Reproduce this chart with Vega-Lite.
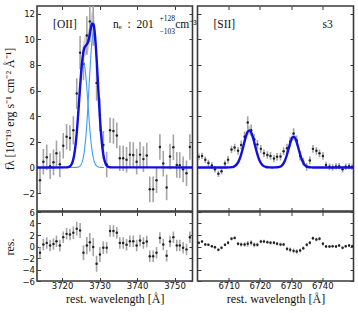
{
"$schema": "https://vega.github.io/schema/vega-lite/v6.json",
"background": "white",
"padding": {"left": 3, "top": 4, "right": 4, "bottom": 4},
"config": {
  "view": {"stroke": "#3a3a3a", "strokeWidth": 1.6},
  "axis": {"grid": false, "domain": false, "tickSize": -3.5, "tickColor": "#3a3a3a", "tickWidth": 1, "minExtent": 0, "offset": 0, "labelFont": "DejaVu Sans", "labelFontSize": 8.5, "labelColor": "#111", "labelPadding": 6, "titleFont": "Liberation Serif", "titleFontSize": 12, "titleFontWeight": "normal", "titleColor": "#111", "titlePadding": 5},
  "axisX": {"labelPadding": 3.5, "titlePadding": 4}
},
"datasets": {
  "leftPts": [
    {"lam": 3714.1, "v": -1.0, "lo": -2.0, "hi": 0.0, "res": -1.1, "rlo": -2.1, "rhi": -0.1},
    {"lam": 3715.0, "v": 0.44, "lo": -0.56, "hi": 1.44, "res": 0.35, "rlo": -0.65, "rhi": 1.35},
    {"lam": 3715.9, "v": 0.8, "lo": -0.2, "hi": 1.8, "res": 0.63, "rlo": -0.37, "rhi": 1.63},
    {"lam": 3716.8, "v": 0.1, "lo": -0.9, "hi": 1.1, "res": 0.17, "rlo": -0.83, "rhi": 1.17},
    {"lam": 3717.7, "v": 0.4, "lo": -0.6, "hi": 1.4, "res": 0.45, "rlo": -0.55, "rhi": 1.45},
    {"lam": 3718.5, "v": 1.1, "lo": 0.1, "hi": 2.1, "res": 0.93, "rlo": -0.07, "rhi": 1.93},
    {"lam": 3719.4, "v": 0.25, "lo": -0.75, "hi": 1.25, "res": 0.17, "rlo": -0.83, "rhi": 1.17},
    {"lam": 3720.3, "v": 1.69, "lo": 0.69, "hi": 2.69, "res": 1.63, "rlo": 0.63, "rhi": 2.63},
    {"lam": 3721.2, "v": 2.4, "lo": 1.4, "hi": 3.4, "res": 2.2, "rlo": 1.2, "rhi": 3.2},
    {"lam": 3722.1, "v": 2.3, "lo": 1.3, "hi": 3.3, "res": 2.1, "rlo": 1.1, "rhi": 3.1},
    {"lam": 3723.0, "v": 2.9, "lo": 1.8, "hi": 4.0, "res": 2.4, "rlo": 1.3, "rhi": 3.5},
    {"lam": 3723.9, "v": 5.77, "lo": 4.57, "hi": 6.97, "res": 3.1, "rlo": 1.9, "rhi": 4.3},
    {"lam": 3724.8, "v": 8.96, "lo": 7.66, "hi": 10.26, "res": 2.8, "rlo": 1.5, "rhi": 4.1},
    {"lam": 3725.7, "v": 8.1, "lo": 6.8, "hi": 9.4, "res": -1.1, "rlo": -2.4, "rhi": 0.2},
    {"lam": 3726.6, "v": 10.3, "lo": 8.8, "hi": 11.8, "res": 0.17, "rlo": -1.33, "rhi": 1.67},
    {"lam": 3727.4, "v": 11.4, "lo": 9.8, "hi": 13.0, "res": 0.75, "rlo": -0.85, "rhi": 2.35},
    {"lam": 3728.3, "v": 11.1, "lo": 9.5, "hi": 12.7, "res": -0.1, "rlo": -1.7, "rhi": 1.5},
    {"lam": 3729.2, "v": 6.6, "lo": 5.2, "hi": 8.0, "res": -3.0, "rlo": -4.4, "rhi": -1.6},
    {"lam": 3730.1, "v": 4.1, "lo": 2.8, "hi": 5.4, "res": -1.4, "rlo": -2.7, "rhi": -0.1},
    {"lam": 3731.0, "v": 1.75, "lo": 0.65, "hi": 2.85, "res": -0.2, "rlo": -1.3, "rhi": 0.9},
    {"lam": 3731.9, "v": 0.23, "lo": -0.77, "hi": 1.23, "res": -0.2, "rlo": -1.2, "rhi": 0.8},
    {"lam": 3732.8, "v": 2.9, "lo": 1.9, "hi": 3.9, "res": 2.7, "rlo": 1.7, "rhi": 3.7},
    {"lam": 3733.7, "v": 2.84, "lo": 1.84, "hi": 3.84, "res": 2.7, "rlo": 1.7, "rhi": 3.7},
    {"lam": 3734.6, "v": 2.5, "lo": 1.5, "hi": 3.5, "res": 2.4, "rlo": 1.4, "rhi": 3.4},
    {"lam": 3735.4, "v": 0.72, "lo": -0.28, "hi": 1.72, "res": 0.63, "rlo": -0.37, "rhi": 1.63},
    {"lam": 3736.3, "v": 0.72, "lo": -0.28, "hi": 1.72, "res": 0.6, "rlo": -0.4, "rhi": 1.6},
    {"lam": 3737.2, "v": 0.6, "lo": -0.4, "hi": 1.6, "res": 0.3, "rlo": -0.7, "rhi": 1.3},
    {"lam": 3738.1, "v": 1.0, "lo": 0.0, "hi": 2.0, "res": 0.93, "rlo": -0.07, "rhi": 1.93},
    {"lam": 3739.0, "v": 0.97, "lo": -0.03, "hi": 1.97, "res": 0.93, "rlo": -0.07, "rhi": 1.93},
    {"lam": 3739.9, "v": 0.45, "lo": -0.55, "hi": 1.45, "res": 0.17, "rlo": -0.83, "rhi": 1.17},
    {"lam": 3740.8, "v": 1.0, "lo": 0.0, "hi": 2.0, "res": 1.05, "rlo": 0.05, "rhi": 2.05},
    {"lam": 3741.7, "v": 0.65, "lo": -0.35, "hi": 1.65, "res": 0.63, "rlo": -0.37, "rhi": 1.63},
    {"lam": 3742.6, "v": 0.93, "lo": -0.07, "hi": 1.93, "res": 0.87, "rlo": -0.13, "rhi": 1.87},
    {"lam": 3743.4, "v": -1.71, "lo": -2.71, "hi": -0.71, "res": -1.7, "rlo": -2.7, "rhi": -0.7},
    {"lam": 3744.3, "v": -1.71, "lo": -2.71, "hi": -0.71, "res": -1.7, "rlo": -2.7, "rhi": -0.7},
    {"lam": 3745.2, "v": -1.0, "lo": -2.0, "hi": 0.0, "res": -1.1, "rlo": -2.1, "rhi": -0.1},
    {"lam": 3746.1, "v": 1.6, "lo": 0.6, "hi": 2.6, "res": 1.5, "rlo": 0.5, "rhi": 2.5},
    {"lam": 3747.0, "v": 0.3, "lo": -0.7, "hi": 1.3, "res": 0.35, "rlo": -0.65, "rhi": 1.35},
    {"lam": 3747.9, "v": -1.56, "lo": -2.56, "hi": -0.56, "res": -1.6, "rlo": -2.6, "rhi": -0.6},
    {"lam": 3748.8, "v": 0.85, "lo": -0.15, "hi": 1.85, "res": 0.87, "rlo": -0.13, "rhi": 1.87},
    {"lam": 3749.7, "v": 1.58, "lo": 0.58, "hi": 2.58, "res": 1.63, "rlo": 0.63, "rhi": 2.63},
    {"lam": 3750.6, "v": 0.2, "lo": -0.8, "hi": 1.2, "res": 0.17, "rlo": -0.83, "rhi": 1.17},
    {"lam": 3751.4, "v": 0.18, "lo": -0.82, "hi": 1.18, "res": 0.17, "rlo": -0.83, "rhi": 1.17},
    {"lam": 3752.3, "v": -0.15, "lo": -1.15, "hi": 0.85, "res": -0.2, "rlo": -1.2, "rhi": 0.8},
    {"lam": 3753.2, "v": -0.45, "lo": -1.45, "hi": 0.55, "res": -0.5, "rlo": -1.5, "rhi": 0.5},
    {"lam": 3754.1, "v": 1.6, "lo": 0.6, "hi": 2.6, "res": 1.6, "rlo": 0.6, "rhi": 2.6}
  ],
  "leftModel": [
    {"lam": 3713.3, "tot": 0},
    {"lam": 3720.8, "tot": 0.002, "c1": 0.002, "c2": 0},
    {"lam": 3721.2, "tot": 0.007, "c1": 0.007, "c2": 0},
    {"lam": 3721.6, "tot": 0.024, "c1": 0.024, "c2": 0},
    {"lam": 3722.0, "tot": 0.071, "c1": 0.071, "c2": 0, "lo": 0.06, "hi": 0.1},
    {"lam": 3722.4, "tot": 0.187, "c1": 0.187, "c2": 0, "lo": 0.16, "hi": 0.24},
    {"lam": 3722.8, "tot": 0.442, "c1": 0.442, "c2": 0, "lo": 0.39, "hi": 0.52},
    {"lam": 3723.2, "tot": 0.937, "c1": 0.936, "c2": 0.001, "lo": 0.85, "hi": 1.06},
    {"lam": 3723.6, "tot": 1.778, "c1": 1.774, "c2": 0.004, "lo": 1.62, "hi": 1.98},
    {"lam": 3724.0, "tot": 3.019, "c1": 3.006, "c2": 0.013, "lo": 2.76, "hi": 3.3},
    {"lam": 3724.4, "tot": 4.601, "c1": 4.56, "c2": 0.041, "lo": 4.22, "hi": 5.0},
    {"lam": 3724.8, "tot": 6.306, "c1": 6.189, "c2": 0.117, "lo": 5.8, "hi": 6.85},
    {"lam": 3725.2, "tot": 7.819, "c1": 7.519, "c2": 0.3, "lo": 7.2, "hi": 8.5},
    {"lam": 3725.6, "tot": 8.862, "c1": 8.172, "c2": 0.69, "lo": 8.15, "hi": 9.65},
    {"lam": 3726.0, "tot": 9.369, "c1": 7.948, "c2": 1.421, "lo": 8.6, "hi": 10.2},
    {"lam": 3726.4, "tot": 9.537, "c1": 6.918, "c2": 2.619, "lo": 8.75, "hi": 10.4},
    {"lam": 3726.8, "tot": 9.705, "c1": 5.388, "c2": 4.317, "lo": 8.9, "hi": 10.6},
    {"lam": 3727.2, "tot": 10.123, "c1": 3.754, "c2": 6.369, "lo": 9.3, "hi": 11.0},
    {"lam": 3727.6, "tot": 10.748, "c1": 2.341, "c2": 8.407, "lo": 9.9, "hi": 11.7},
    {"lam": 3728.0, "tot": 11.239, "c1": 1.306, "c2": 9.933, "lo": 10.3, "hi": 12.2},
    {"lam": 3728.4, "tot": 11.153, "c1": 0.653, "c2": 10.5, "lo": 10.2, "hi": 12.2},
    {"lam": 3728.8, "tot": 10.224, "c1": 0.291, "c2": 9.933, "lo": 9.4, "hi": 11.2},
    {"lam": 3729.2, "tot": 8.524, "c1": 0.117, "c2": 8.407, "lo": 7.8, "hi": 9.3},
    {"lam": 3729.6, "tot": 6.411, "c1": 0.042, "c2": 6.369, "lo": 5.9, "hi": 7.0},
    {"lam": 3730.0, "tot": 4.33, "c1": 0.013, "c2": 4.317, "lo": 3.95, "hi": 4.75},
    {"lam": 3730.4, "tot": 2.623, "c1": 0.004, "c2": 2.619, "lo": 2.4, "hi": 2.9},
    {"lam": 3730.8, "tot": 1.421, "c1": 0, "c2": 1.421, "lo": 1.3, "hi": 1.58},
    {"lam": 3731.2, "tot": 0.69, "c1": 0, "c2": 0.69, "lo": 0.62, "hi": 0.78},
    {"lam": 3731.6, "tot": 0.3, "c2": 0.3, "lo": 0.26, "hi": 0.35},
    {"lam": 3732.0, "tot": 0.117, "c2": 0.117, "lo": 0.1, "hi": 0.15},
    {"lam": 3732.4, "tot": 0.041, "c2": 0.041, "lo": 0.03, "hi": 0.06},
    {"lam": 3732.8, "tot": 0.013, "c2": 0.013},
    {"lam": 3733.2, "tot": 0.004, "c2": 0.004},
    {"lam": 3754.8, "tot": 0}
  ],
  "rightPts": [
    {"lam": 6700.4, "v": 0.83, "lo": 0.58, "hi": 1.08, "res": 0.64, "rlo": 0.39, "rhi": 0.89},
    {"lam": 6701.45, "v": 0.9, "lo": 0.65, "hi": 1.15, "res": 0.87, "rlo": 0.62, "rhi": 1.12},
    {"lam": 6702.5, "v": 0.6, "lo": 0.35, "hi": 0.85, "res": 0.35, "rlo": 0.1, "rhi": 0.6},
    {"lam": 6703.5, "v": 0.35, "lo": 0.1, "hi": 0.6, "res": 0.29, "rlo": 0.04, "rhi": 0.54},
    {"lam": 6704.6, "v": 0.15, "lo": -0.1, "hi": 0.4, "res": 0.06, "rlo": -0.19, "rhi": 0.31},
    {"lam": 6705.6, "v": -0.15, "lo": -0.4, "hi": 0.1, "res": -0.12, "rlo": -0.37, "rhi": 0.13},
    {"lam": 6706.7, "v": -0.5, "lo": -0.75, "hi": -0.25, "res": -0.58, "rlo": -0.83, "rhi": -0.33},
    {"lam": 6707.7, "v": -0.3, "lo": -0.55, "hi": -0.05, "res": -0.23, "rlo": -0.48, "rhi": 0.02},
    {"lam": 6708.8, "v": 0.3, "lo": 0.05, "hi": 0.55, "res": 0.29, "rlo": 0.04, "rhi": 0.54},
    {"lam": 6709.8, "v": 0.6, "lo": 0.3, "hi": 0.9, "res": 0.64, "rlo": 0.34, "rhi": 0.94},
    {"lam": 6710.9, "v": 1.4, "lo": 1.1, "hi": 1.7, "res": 1.34, "rlo": 1.04, "rhi": 1.64},
    {"lam": 6711.9, "v": 1.55, "lo": 1.25, "hi": 1.85, "res": 1.5, "rlo": 1.2, "rhi": 1.8},
    {"lam": 6713.0, "v": 1.3, "lo": 1.0, "hi": 1.6, "res": 0.47, "rlo": 0.17, "rhi": 0.77},
    {"lam": 6714.0, "v": 1.75, "lo": 1.4, "hi": 2.1, "res": 0.35, "rlo": 0.0, "rhi": 0.7},
    {"lam": 6715.1, "v": 2.4, "lo": 2.0, "hi": 2.8, "res": 0.35, "rlo": -0.05, "rhi": 0.75},
    {"lam": 6716.1, "v": 3.5, "lo": 3.0, "hi": 4.0, "res": 0.47, "rlo": -0.03, "rhi": 0.97},
    {"lam": 6717.2, "v": 2.9, "lo": 2.45, "hi": 3.35, "res": 0.64, "rlo": 0.19, "rhi": 1.09},
    {"lam": 6718.2, "v": 2.2, "lo": 1.8, "hi": 2.6, "res": 0.29, "rlo": -0.11, "rhi": 0.69},
    {"lam": 6719.2, "v": 1.8, "lo": 1.45, "hi": 2.15, "res": 0.29, "rlo": -0.06, "rhi": 0.64},
    {"lam": 6720.3, "v": 1.45, "lo": 1.15, "hi": 1.75, "res": 0.87, "rlo": 0.57, "rhi": 1.17},
    {"lam": 6721.3, "v": 1.1, "lo": 0.8, "hi": 1.4, "res": 0.87, "rlo": 0.57, "rhi": 1.17},
    {"lam": 6722.4, "v": 0.97, "lo": 0.67, "hi": 1.27, "res": 0.76, "rlo": 0.46, "rhi": 1.06},
    {"lam": 6723.4, "v": 0.9, "lo": 0.6, "hi": 1.2, "res": 0.64, "rlo": 0.34, "rhi": 0.94},
    {"lam": 6724.5, "v": 0.7, "lo": 0.4, "hi": 1.0, "res": 0.64, "rlo": 0.34, "rhi": 0.94},
    {"lam": 6725.5, "v": 0.83, "lo": 0.53, "hi": 1.13, "res": 0.47, "rlo": 0.17, "rhi": 0.77},
    {"lam": 6726.6, "v": 0.85, "lo": 0.55, "hi": 1.15, "res": 0.35, "rlo": 0.05, "rhi": 0.65},
    {"lam": 6727.6, "v": 1.27, "lo": 0.97, "hi": 1.57, "res": 0.35, "rlo": 0.05, "rhi": 0.65},
    {"lam": 6728.7, "v": 1.5, "lo": 1.15, "hi": 1.85, "res": -0.41, "rlo": -0.76, "rhi": -0.06},
    {"lam": 6729.7, "v": 2.0, "lo": 1.6, "hi": 2.4, "res": -0.58, "rlo": -0.98, "rhi": -0.18},
    {"lam": 6730.8, "v": 2.65, "lo": 2.25, "hi": 3.05, "res": -0.76, "rlo": -1.16, "rhi": -0.36},
    {"lam": 6731.8, "v": 2.1, "lo": 1.7, "hi": 2.5, "res": -0.87, "rlo": -1.27, "rhi": -0.47},
    {"lam": 6732.9, "v": 0.9, "lo": 0.55, "hi": 1.25, "res": -0.7, "rlo": -1.05, "rhi": -0.35},
    {"lam": 6733.9, "v": 0.45, "lo": 0.15, "hi": 0.75, "res": -0.29, "rlo": -0.59, "rhi": 0.01},
    {"lam": 6735.0, "v": 0.05, "lo": -0.25, "hi": 0.35, "res": 0.29, "rlo": -0.01, "rhi": 0.59},
    {"lam": 6736.0, "v": 0.55, "lo": 0.25, "hi": 0.85, "res": 0.64, "rlo": 0.34, "rhi": 0.94},
    {"lam": 6737.0, "v": 1.45, "lo": 1.15, "hi": 1.75, "res": 1.45, "rlo": 1.15, "rhi": 1.75},
    {"lam": 6738.1, "v": 1.3, "lo": 1.0, "hi": 1.6, "res": 1.22, "rlo": 0.92, "rhi": 1.52},
    {"lam": 6739.1, "v": 1.1, "lo": 0.8, "hi": 1.4, "res": 1.34, "rlo": 1.04, "rhi": 1.64},
    {"lam": 6740.2, "v": 0.9, "lo": 0.6, "hi": 1.2, "res": 0.47, "rlo": 0.17, "rhi": 0.77},
    {"lam": 6741.2, "v": 0.2, "lo": -0.05, "hi": 0.45, "res": 0.0, "rlo": -0.25, "rhi": 0.25},
    {"lam": 6742.3, "v": 0.05, "lo": -0.2, "hi": 0.3, "res": 0.0, "rlo": -0.25, "rhi": 0.25},
    {"lam": 6743.3, "v": 0.0, "lo": -0.25, "hi": 0.25, "res": 0.06, "rlo": -0.19, "rhi": 0.31},
    {"lam": 6744.4, "v": 0.08, "lo": -0.17, "hi": 0.33, "res": 0.0, "rlo": -0.25, "rhi": 0.25},
    {"lam": 6745.4, "v": 0.1, "lo": -0.15, "hi": 0.35, "res": 0.17, "rlo": -0.08, "rhi": 0.42},
    {"lam": 6746.5, "v": -0.15, "lo": -0.4, "hi": 0.1, "res": -0.23, "rlo": -0.48, "rhi": 0.02},
    {"lam": 6747.5, "v": 0.05, "lo": -0.2, "hi": 0.3, "res": 0.06, "rlo": -0.19, "rhi": 0.31},
    {"lam": 6748.6, "v": 0.1, "lo": -0.15, "hi": 0.35, "res": 0.17, "rlo": -0.08, "rhi": 0.42},
    {"lam": 6749.6, "v": 0.05, "lo": -0.2, "hi": 0.3, "res": 0.06, "rlo": -0.19, "rhi": 0.31}
  ],
  "rightModel": [
    {"lam": 6700.0, "tot": 0},
    {"lam": 6709.5, "tot": 0.001},
    {"lam": 6710.0, "tot": 0.004},
    {"lam": 6710.5, "tot": 0.009},
    {"lam": 6711.0, "tot": 0.023},
    {"lam": 6711.5, "tot": 0.052},
    {"lam": 6712.0, "tot": 0.111, "lo": 0.1, "hi": 0.13},
    {"lam": 6712.5, "tot": 0.217, "lo": 0.19, "hi": 0.25},
    {"lam": 6713.0, "tot": 0.392, "lo": 0.34, "hi": 0.45},
    {"lam": 6713.5, "tot": 0.658, "lo": 0.58, "hi": 0.75},
    {"lam": 6714.0, "tot": 1.022, "lo": 0.9, "hi": 1.16},
    {"lam": 6714.5, "tot": 1.468, "lo": 1.3, "hi": 1.66},
    {"lam": 6715.0, "tot": 1.954, "lo": 1.72, "hi": 2.2},
    {"lam": 6715.5, "tot": 2.406, "lo": 2.12, "hi": 2.7},
    {"lam": 6716.0, "tot": 2.743, "lo": 2.42, "hi": 3.08},
    {"lam": 6716.5, "tot": 2.896, "lo": 2.55, "hi": 3.25},
    {"lam": 6717.0, "tot": 2.829, "lo": 2.49, "hi": 3.17},
    {"lam": 6717.5, "tot": 2.559, "lo": 2.25, "hi": 2.87},
    {"lam": 6718.0, "tot": 2.143, "lo": 1.89, "hi": 2.4},
    {"lam": 6718.5, "tot": 1.661, "lo": 1.46, "hi": 1.86},
    {"lam": 6719.0, "tot": 1.192, "lo": 1.05, "hi": 1.34},
    {"lam": 6719.5, "tot": 0.792, "lo": 0.7, "hi": 0.89},
    {"lam": 6720.0, "tot": 0.487, "lo": 0.43, "hi": 0.55},
    {"lam": 6720.5, "tot": 0.277, "lo": 0.24, "hi": 0.31},
    {"lam": 6721.0, "tot": 0.146, "lo": 0.13, "hi": 0.17},
    {"lam": 6721.5, "tot": 0.071},
    {"lam": 6722.0, "tot": 0.032},
    {"lam": 6722.5, "tot": 0.013},
    {"lam": 6723.0, "tot": 0.005},
    {"lam": 6724.0, "tot": 0.001},
    {"lam": 6725.0, "tot": 0.003},
    {"lam": 6725.5, "tot": 0.01},
    {"lam": 6726.0, "tot": 0.027},
    {"lam": 6726.5, "tot": 0.065},
    {"lam": 6727.0, "tot": 0.143, "lo": 0.13, "hi": 0.16},
    {"lam": 6727.5, "tot": 0.286, "lo": 0.25, "hi": 0.32},
    {"lam": 6728.0, "tot": 0.519, "lo": 0.46, "hi": 0.58},
    {"lam": 6728.5, "tot": 0.854, "lo": 0.75, "hi": 0.96},
    {"lam": 6729.0, "tot": 1.275, "lo": 1.12, "hi": 1.43},
    {"lam": 6729.5, "tot": 1.725, "lo": 1.52, "hi": 1.93},
    {"lam": 6730.0, "tot": 2.118, "lo": 1.86, "hi": 2.37},
    {"lam": 6730.5, "tot": 2.358, "lo": 2.08, "hi": 2.64},
    {"lam": 6731.0, "tot": 2.381, "lo": 2.1, "hi": 2.67},
    {"lam": 6731.5, "tot": 2.181, "lo": 1.92, "hi": 2.44},
    {"lam": 6732.0, "tot": 1.811, "lo": 1.59, "hi": 2.03},
    {"lam": 6732.5, "tot": 1.365, "lo": 1.2, "hi": 1.53},
    {"lam": 6733.0, "tot": 0.933, "lo": 0.82, "hi": 1.05},
    {"lam": 6733.5, "tot": 0.578, "lo": 0.51, "hi": 0.65},
    {"lam": 6734.0, "tot": 0.325, "lo": 0.29, "hi": 0.36},
    {"lam": 6734.5, "tot": 0.166, "lo": 0.15, "hi": 0.19},
    {"lam": 6735.0, "tot": 0.077},
    {"lam": 6735.5, "tot": 0.032},
    {"lam": 6736.0, "tot": 0.012},
    {"lam": 6736.5, "tot": 0.004},
    {"lam": 6737.0, "tot": 0},
    {"lam": 6750.0, "tot": 0}
  ]
},
"columns": 2,
"bounds": "flush",
"spacing": {"row": 1, "column": 4.5},
"concat": [
  {
    "width": 155.5, "height": 205,
    "resolve": {"axis": {"x": "independent", "y": "independent"}},
    "layer": [
      {
        "data": {"name": "leftModel"},
        "mark": {"type": "area", "color": "#8c8c8c", "opacity": 0.35, "interpolate": "monotone", "clip": true},
        "encoding": {
          "x": {"field": "lam", "type": "quantitative", "scale": {"domain": [3713.3, 3754.8], "nice": false, "zero": false}, "axis": {"orient": "bottom", "values": [3720, 3730, 3740, 3750], "labels": false, "title": null, "maxExtent": 0}},
          "y": {"field": "lo", "type": "quantitative", "scale": {"domain": [-3.4, 12.6], "nice": false, "zero": false}, "axis": {"orient": "left", "values": [-2, 0, 2, 4, 6, 8, 10, 12], "title": "fλ [10⁻¹⁹ erg s⁻¹ cm⁻² Å⁻¹]"}},
          "y2": {"field": "hi"}
        }
      },
      {
        "data": {"name": "leftPts"},
        "mark": {"type": "rule", "color": "#a5a5a5", "strokeWidth": 1.6, "clip": true},
        "encoding": {
          "x": {"field": "lam", "type": "quantitative", "scale": {"domain": [3713.3, 3754.8], "nice": false, "zero": false}, "axis": {"orient": "top", "values": [3720, 3730, 3740, 3750], "labels": false, "title": null, "maxExtent": 0}},
          "y": {"field": "lo", "type": "quantitative", "scale": {"domain": [-3.4, 12.6], "nice": false, "zero": false}, "axis": {"orient": "right", "values": [-2, 0, 2, 4, 6, 8, 10, 12], "labels": false, "title": null, "maxExtent": 0}},
          "y2": {"field": "hi"}
        }
      },
      {
        "data": {"name": "leftPts"},
        "mark": {"type": "circle", "color": "#222", "size": 6, "opacity": 1},
        "encoding": {
          "x": {"field": "lam", "type": "quantitative", "scale": {"domain": [3713.3, 3754.8], "nice": false, "zero": false}, "axis": null},
          "y": {"field": "v", "type": "quantitative", "scale": {"domain": [-3.4, 12.6], "nice": false, "zero": false}, "axis": null}
        }
      },
      {
        "data": {"name": "leftModel"},
        "mark": {"type": "line", "color": "#3d9ef5", "strokeWidth": 1.1, "interpolate": "monotone"},
        "encoding": {
          "x": {"field": "lam", "type": "quantitative", "scale": {"domain": [3713.3, 3754.8], "nice": false, "zero": false}, "axis": null},
          "y": {"field": "c1", "type": "quantitative", "scale": {"domain": [-3.4, 12.6], "nice": false, "zero": false}, "axis": null}
        }
      },
      {
        "data": {"name": "leftModel"},
        "mark": {"type": "line", "color": "#3d9ef5", "strokeWidth": 1.1, "interpolate": "monotone"},
        "encoding": {
          "x": {"field": "lam", "type": "quantitative", "scale": {"domain": [3713.3, 3754.8], "nice": false, "zero": false}, "axis": null},
          "y": {"field": "c2", "type": "quantitative", "scale": {"domain": [-3.4, 12.6], "nice": false, "zero": false}, "axis": null}
        }
      },
      {
        "data": {"name": "leftModel"},
        "mark": {"type": "line", "color": "#1010e0", "strokeWidth": 2.4, "interpolate": "monotone"},
        "encoding": {
          "x": {"field": "lam", "type": "quantitative", "scale": {"domain": [3713.3, 3754.8], "nice": false, "zero": false}, "axis": null},
          "y": {"field": "tot", "type": "quantitative", "scale": {"domain": [-3.4, 12.6], "nice": false, "zero": false}, "axis": null}
        }
      },
      {
        "data": {"values": [{"lam": 3717.6, "v": 11.1, "t": "[OII]"}, {"lam": 3733.6, "v": 11.1, "t": "nₑ\u2002:\u2002201"}, {"lam": 3750.2, "v": 11.1, "t": "cm⁻³"}]},
        "mark": {"type": "text", "font": "Liberation Serif", "fontSize": 11.5, "align": "left", "baseline": "middle", "color": "#111"},
        "encoding": {
          "x": {"field": "lam", "type": "quantitative", "scale": {"domain": [3713.3, 3754.8], "nice": false, "zero": false}, "axis": null},
          "y": {"field": "v", "type": "quantitative", "scale": {"domain": [-3.4, 12.6], "nice": false, "zero": false}, "axis": null},
          "text": {"field": "t"}
        }
      },
      {
        "data": {"values": [{"lam": 3746.0, "v": 11.55, "t": "+128"}, {"lam": 3746.0, "v": 10.6, "t": "−103"}]},
        "mark": {"type": "text", "font": "Liberation Serif", "fontSize": 7.5, "align": "left", "baseline": "middle", "color": "#111"},
        "encoding": {
          "x": {"field": "lam", "type": "quantitative", "scale": {"domain": [3713.3, 3754.8], "nice": false, "zero": false}, "axis": null},
          "y": {"field": "v", "type": "quantitative", "scale": {"domain": [-3.4, 12.6], "nice": false, "zero": false}, "axis": null},
          "text": {"field": "t"}
        }
      }
    ]
  },
  {
    "width": 156, "height": 205,
    "resolve": {"axis": {"x": "independent", "y": "independent"}},
    "layer": [
      {
        "data": {"name": "rightModel"},
        "mark": {"type": "area", "color": "#8c8c8c", "opacity": 0.35, "interpolate": "monotone", "clip": true},
        "encoding": {
          "x": {"field": "lam", "type": "quantitative", "scale": {"domain": [6700, 6750], "nice": false, "zero": false}, "axis": {"orient": "bottom", "values": [6710, 6720, 6730, 6740], "labels": false, "title": null, "maxExtent": 0}},
          "y": {"field": "lo", "type": "quantitative", "scale": {"domain": [-3.4, 12.6], "nice": false, "zero": false}, "axis": {"orient": "left", "values": [-2, 0, 2, 4, 6, 8, 10, 12], "labels": false, "title": null, "maxExtent": 0}},
          "y2": {"field": "hi"}
        }
      },
      {
        "data": {"name": "rightPts"},
        "mark": {"type": "rule", "color": "#a5a5a5", "strokeWidth": 1.6, "clip": true},
        "encoding": {
          "x": {"field": "lam", "type": "quantitative", "scale": {"domain": [6700, 6750], "nice": false, "zero": false}, "axis": {"orient": "top", "values": [6710, 6720, 6730, 6740], "labels": false, "title": null, "maxExtent": 0}},
          "y": {"field": "lo", "type": "quantitative", "scale": {"domain": [-3.4, 12.6], "nice": false, "zero": false}, "axis": {"orient": "right", "values": [-2, 0, 2, 4, 6, 8, 10, 12], "labels": false, "title": null, "maxExtent": 0}},
          "y2": {"field": "hi"}
        }
      },
      {
        "data": {"name": "rightPts"},
        "mark": {"type": "circle", "color": "#222", "size": 6, "opacity": 1},
        "encoding": {
          "x": {"field": "lam", "type": "quantitative", "scale": {"domain": [6700, 6750], "nice": false, "zero": false}, "axis": null},
          "y": {"field": "v", "type": "quantitative", "scale": {"domain": [-3.4, 12.6], "nice": false, "zero": false}, "axis": null}
        }
      },
      {
        "data": {"name": "rightModel"},
        "mark": {"type": "line", "color": "#1010e0", "strokeWidth": 2.4, "interpolate": "monotone"},
        "encoding": {
          "x": {"field": "lam", "type": "quantitative", "scale": {"domain": [6700, 6750], "nice": false, "zero": false}, "axis": null},
          "y": {"field": "tot", "type": "quantitative", "scale": {"domain": [-3.4, 12.6], "nice": false, "zero": false}, "axis": null}
        }
      },
      {
        "mark": {"type": "rule", "color": "#7cc3f7", "strokeWidth": 2.4},
        "encoding": {
          "x": {"datum": 6700, "type": "quantitative", "scale": {"domain": [6700, 6750], "nice": false, "zero": false}, "axis": null},
          "x2": {"datum": 6742},
          "y": {"datum": 0, "type": "quantitative", "scale": {"domain": [-3.4, 12.6], "nice": false, "zero": false}, "axis": null}
        }
      },
      {
        "data": {"values": [{"lam": 6705.1, "v": 11.1, "t": "[SII]"}, {"lam": 6740.1, "v": 11.1, "t": "s3"}]},
        "mark": {"type": "text", "font": "Liberation Serif", "fontSize": 11.5, "align": "left", "baseline": "middle", "color": "#111"},
        "encoding": {
          "x": {"field": "lam", "type": "quantitative", "scale": {"domain": [6700, 6750], "nice": false, "zero": false}, "axis": null},
          "y": {"field": "v", "type": "quantitative", "scale": {"domain": [-3.4, 12.6], "nice": false, "zero": false}, "axis": null},
          "text": {"field": "t"}
        }
      }
    ]
  },
  {
    "width": 155.5, "height": 69,
    "resolve": {"axis": {"x": "independent", "y": "independent"}},
    "layer": [
      {
        "mark": {"type": "rule", "color": "#6a6a6a", "strokeWidth": 2},
        "encoding": {
          "y": {"datum": 0, "type": "quantitative", "scale": {"domain": [-6, 6], "nice": false, "zero": false}, "axis": null}
        }
      },
      {
        "data": {"name": "leftPts"},
        "mark": {"type": "rule", "color": "#a5a5a5", "strokeWidth": 1.6, "clip": true},
        "encoding": {
          "x": {"field": "lam", "type": "quantitative", "scale": {"domain": [3713.3, 3754.8], "nice": false, "zero": false}, "axis": {"orient": "bottom", "values": [3720, 3730, 3740, 3750], "format": "d", "title": "rest. wavelength [Å]"}},
          "y": {"field": "rlo", "type": "quantitative", "scale": {"domain": [-6, 6], "nice": false, "zero": false}, "axis": {"orient": "left", "values": [-6, -4, -2, 0, 2, 4, 6], "title": "res."}},
          "y2": {"field": "rhi"}
        }
      },
      {
        "data": {"name": "leftPts"},
        "mark": {"type": "circle", "color": "#222", "size": 6, "opacity": 1},
        "encoding": {
          "x": {"field": "lam", "type": "quantitative", "scale": {"domain": [3713.3, 3754.8], "nice": false, "zero": false}, "axis": {"orient": "top", "values": [3720, 3730, 3740, 3750], "labels": false, "title": null, "maxExtent": 0}},
          "y": {"field": "res", "type": "quantitative", "scale": {"domain": [-6, 6], "nice": false, "zero": false}, "axis": {"orient": "right", "values": [-6, -4, -2, 0, 2, 4, 6], "labels": false, "title": null, "maxExtent": 0}}
        }
      },
      {
        "mark": {"type": "rule", "color": "#ff00ff", "strokeWidth": 1.3, "strokeDash": [4, 3]},
        "encoding": {
          "y": {"datum": 1.1, "type": "quantitative", "scale": {"domain": [-6, 6], "nice": false, "zero": false}, "axis": null}
        }
      }
    ]
  },
  {
    "width": 156, "height": 69,
    "resolve": {"axis": {"x": "independent", "y": "independent"}},
    "layer": [
      {
        "mark": {"type": "rule", "color": "#6a6a6a", "strokeWidth": 2},
        "encoding": {
          "y": {"datum": 0, "type": "quantitative", "scale": {"domain": [-6, 6], "nice": false, "zero": false}, "axis": null}
        }
      },
      {
        "data": {"name": "rightPts"},
        "mark": {"type": "rule", "color": "#a5a5a5", "strokeWidth": 1.6, "clip": true},
        "encoding": {
          "x": {"field": "lam", "type": "quantitative", "scale": {"domain": [6700, 6750], "nice": false, "zero": false}, "axis": {"orient": "bottom", "values": [6710, 6720, 6730, 6740], "format": "d", "title": "rest. wavelength [Å]"}},
          "y": {"field": "rlo", "type": "quantitative", "scale": {"domain": [-6, 6], "nice": false, "zero": false}, "axis": {"orient": "left", "values": [-6, -4, -2, 0, 2, 4, 6], "labels": false, "title": null, "maxExtent": 0}},
          "y2": {"field": "rhi"}
        }
      },
      {
        "data": {"name": "rightPts"},
        "mark": {"type": "circle", "color": "#222", "size": 6, "opacity": 1},
        "encoding": {
          "x": {"field": "lam", "type": "quantitative", "scale": {"domain": [6700, 6750], "nice": false, "zero": false}, "axis": {"orient": "top", "values": [6710, 6720, 6730, 6740], "labels": false, "title": null, "maxExtent": 0}},
          "y": {"field": "res", "type": "quantitative", "scale": {"domain": [-6, 6], "nice": false, "zero": false}, "axis": {"orient": "right", "values": [-6, -4, -2, 0, 2, 4, 6], "labels": false, "title": null, "maxExtent": 0}}
        }
      },
      {
        "mark": {"type": "rule", "color": "#ff00ff", "strokeWidth": 1.3, "strokeDash": [4, 3]},
        "encoding": {
          "y": {"datum": 0.2, "type": "quantitative", "scale": {"domain": [-6, 6], "nice": false, "zero": false}, "axis": null}
        }
      }
    ]
  }
]
}
